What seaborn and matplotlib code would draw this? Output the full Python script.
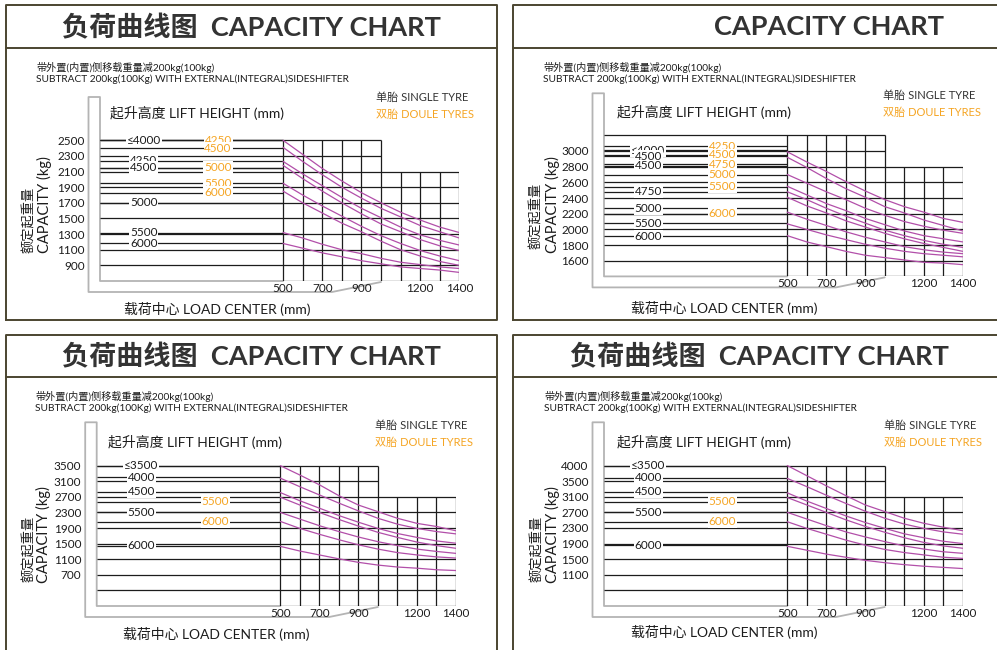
import numpy as np
import pandas as pd
import seaborn as sns
import matplotlib.pyplot as plt

sns.set_theme(style='white')
plt.rcParams['font.family'] = ['Lato', 'Noto Sans CJK SC', 'DejaVu Sans']

W, H = 997, 650
INK = '#1c1c1c'
ORANGE = '#f5a524'
MAGENTA = '#b24fa9'
FRAME = '#4b4530'
BRACKET = '#b4b4b4'

# shared x data (load center, mm)
load_centers = [500, 600, 700, 800, 900, 1000, 1100, 1200, 1300, 1400]
x_tick_values = [500, 700, 900, 1200, 1400]

# ---- panel 1 (top left)
p1_rows = [2500, 2300, 2100, 1900, 1700, 1500, 1300, 1100, 900, 700]
p1_ticks = [2500, 2300, 2100, 1900, 1700, 1500, 1300, 1100, 900]
p1_single = ['≤4000', '4250', '4500', '5000', '5500', '6000']
p1_single_lv = [2500, 2240, 2150, 1700, 1320, 1180]
p1_dual = ['4250', '4500', '5000', '5500', '6000']
p1_dual_lv = [2500, 2400, 2150, 1950, 1830]
p1_curves = [
    [2500, 2320, 2140, 1980, 1830, 1700, 1580, 1480, 1390, 1320],
    [2410, 2230, 2060, 1900, 1760, 1630, 1520, 1410, 1330, 1250],
    [2230, 2070, 1920, 1770, 1630, 1510, 1390, 1290, 1220, 1160],
    [2180, 2010, 1850, 1700, 1560, 1430, 1330, 1230, 1150, 1090],
    [1950, 1800, 1660, 1530, 1400, 1280, 1180, 1090, 1020, 960],
    [1850, 1700, 1570, 1440, 1330, 1210, 1100, 1020, 950, 900],
    [1320, 1250, 1170, 1100, 1050, 990, 940, 910, 880, 860],
    [1180, 1120, 1060, 1010, 960, 920, 880, 860, 840, 810],
]

# ---- panel 2 (top right)
p2_rows = [3200, 3000, 2800, 2600, 2400, 2200, 2000, 1800, 1600, 1400]
p2_ticks = [3000, 2800, 2600, 2400, 2200, 2000, 1800, 1600]
p2_single = ['≤4000', '4500', '4500', '4750', '5000', '5500', '6000']
p2_single_lv = [3010, 2935, 2810, 2480, 2270, 2080, 1915]
p2_dual = ['4250', '4500', '4750', '5000', '5500', '6000']
p2_dual_lv = [3060, 2950, 2830, 2700, 2545, 2200]
p2_curves = [
    [2990, 2860, 2740, 2610, 2490, 2380, 2290, 2220, 2140, 2090],
    [2920, 2790, 2650, 2520, 2410, 2290, 2210, 2120, 2050, 1980],
    [2700, 2590, 2480, 2380, 2270, 2180, 2100, 2040, 1990, 1950],
    [2550, 2440, 2330, 2240, 2140, 2060, 1980, 1920, 1880, 1840],
    [2480, 2380, 2270, 2170, 2080, 1990, 1920, 1860, 1810, 1770],
    [2410, 2300, 2210, 2110, 2030, 1950, 1880, 1820, 1770, 1720],
    [2220, 2130, 2050, 1970, 1900, 1840, 1780, 1740, 1710, 1690],
    [2070, 2000, 1930, 1870, 1810, 1760, 1720, 1690, 1670, 1650],
    [1920, 1840, 1780, 1720, 1670, 1640, 1610, 1580, 1570, 1550],
]

# ---- panel 3 (bottom left)
p3_rows = [3500, 3100, 2700, 2300, 1900, 1500, 1100, 700, 300, -100]
p3_ticks = [3500, 3100, 2700, 2300, 1900, 1500, 1100, 700]
p3_single = ['≤3500', '4000', '4500', '5500', '6000']
p3_single_lv = [3500, 3200, 2830, 2300, 1450]
p3_dual = ['5500', '6000']
p3_dual_lv = [2580, 2060]
p3_curves = [
    [3500, 3260, 3010, 2730, 2490, 2320, 2150, 2020, 1940, 1830],
    [3180, 2960, 2750, 2540, 2340, 2150, 2000, 1890, 1810, 1750],
    [2810, 2600, 2410, 2220, 2050, 1890, 1760, 1660, 1570, 1510],
    [2690, 2490, 2300, 2120, 1950, 1790, 1660, 1540, 1450, 1380],
    [2300, 2130, 1960, 1810, 1670, 1550, 1450, 1360, 1300, 1250],
    [2070, 1890, 1740, 1600, 1470, 1360, 1270, 1210, 1160, 1130],
    [1430, 1310, 1210, 1110, 1020, 950, 900, 870, 830, 810],
]

# ---- panel 4 (bottom right); printed top label 4000 sits on the 3900 row
p4_rows = [3900, 3500, 3100, 2700, 2300, 1900, 1500, 1100, 700, 300]
p4_ticks = [4000, 3500, 3100, 2700, 2300, 1900, 1500, 1100]
p4_single = ['≤3500', '4000', '4500', '5500', '6000']
p4_single_lv = [3900, 3590, 3230, 2700, 1860]
p4_dual = ['5500', '6000']
p4_dual_lv = [2970, 2460]
p4_curves = [
    [3900, 3640, 3380, 3130, 2890, 2720, 2550, 2420, 2320, 2230],
    [3570, 3360, 3140, 2930, 2730, 2550, 2400, 2290, 2200, 2140],
    [3200, 2990, 2800, 2610, 2440, 2290, 2150, 2050, 1960, 1900],
    [3080, 2890, 2700, 2510, 2340, 2190, 2050, 1930, 1840, 1780],
    [2700, 2530, 2360, 2200, 2070, 1950, 1840, 1760, 1690, 1650],
    [2460, 2290, 2140, 1990, 1860, 1750, 1670, 1610, 1550, 1520],
    [1830, 1730, 1630, 1550, 1470, 1410, 1360, 1320, 1290, 1260],
]

fig = plt.figure(figsize=(W / 100, H / 100), dpi=100)
bg = fig.add_axes([0, 0, 1, 1])
bg.set_xlim(0, W)
bg.set_ylim(H, 0)
bg.axis('off')


def frame(l, t, r, b, sep):
    bg.plot([l, l, r, r, l], [b, t, t, b, b], color=FRAME, lw=1.4, clip_on=False)
    bg.plot([l, r], [sep, sep], color=FRAME, lw=1.4)


def bracket(rect, xlim):
    l, t, r, b = rect
    to_px = lambda mm: l + (mm - xlim[0]) * (r - l) / (1400 - xlim[0])
    ox = l - 11.5
    bg.plot([to_px(500), l, l, ox, ox, to_px(750), to_px(1000)],
            [b, b, t, t, b + 11, b + 11, b + 1],
            color=BRACKET, lw=1.3, solid_joinstyle='round')


def chart(rect, xlim, ylim, rows, right_top, ticks, singles, single_lv,
          duals, dual_lv, curves):
    l, t, r, b = rect
    ax = fig.add_axes([l / W, 1 - b / H, (r - l) / W, (b - t) / H])
    ax.set_facecolor('none')
    x0 = xlim[0]
    for v in rows[:-1]:
        ax.hlines(v, x0, 1000 if v > right_top else 1400, color=INK, lw=0.9)
    ax.hlines(rows[-1], 500, 1400, color=INK, lw=0.9)
    for c in load_centers:
        ax.vlines(c, rows[-1], rows[0] if c <= 1000 else right_top,
                  color=INK, lw=0.9)

    for name, lv in zip(singles, single_lv):
        ax.hlines(lv, x0, 500, color=INK, lw=0.9)
        ax.text(-212, lv, name, ha='center', va='center', fontsize=8.5,
                color=INK, bbox=dict(facecolor='white', edgecolor='none', pad=0.6))
    for name, lv in zip(duals, dual_lv):
        ax.hlines(lv, x0, 500, color=INK, lw=0.9)
        ax.text(168, lv, name, ha='center', va='center', fontsize=8.5,
                color=ORANGE, bbox=dict(facecolor='white', edgecolor='none', pad=0.6))

    df = pd.DataFrame({
        'load': np.tile(load_centers, len(curves)),
        'cap': np.concatenate(curves),
        'curve': np.repeat(np.arange(len(curves)), len(load_centers)),
    })
    sns.lineplot(data=df, x='load', y='cap', hue='curve',
                 palette=[MAGENTA] * len(curves), estimator=None,
                 legend=False, lw=0.9, ax=ax)

    start = 1 if rows[0] > ticks[0] and rows[1] == ticks[0] else 0
    ax.set_yticks(rows[start:start + len(ticks)], [str(v) for v in ticks])
    ax.set_xticks(x_tick_values, [str(v) for v in x_tick_values])
    ax.tick_params(axis='both', length=0, labelsize=8.5, colors=INK)
    ax.tick_params(axis='y', pad=11)
    ax.tick_params(axis='x', pad=1.5)
    for s in ax.spines.values():
        s.set_visible(False)
    ax.grid(False)
    ax.set_xlim(xlim)
    ax.set_ylim(ylim)
    ax.set_xlabel('')
    ax.set_ylabel('')
    return ax


def panel_text(title_xy, title, sub_x, sub_y, leg_x, leg_y, lift_xy, load_xy,
               ylab_cn, ylab_en):
    bg.text(*title_xy, title, ha='center', va='center', fontsize=19.5,
            fontweight='bold', color='#333333')
    bg.text(sub_x, sub_y, '带外置(内置)侧移载重量减200kg(100kg)', ha='left',
            va='center', fontsize=7.3, color=INK)
    bg.text(sub_x, sub_y + 12,
            'SUBTRACT 200kg(100Kg) WITH EXTERNAL(INTEGRAL)SIDESHIFTER',
            ha='left', va='center', fontsize=7.3, color=INK)
    bg.text(leg_x, leg_y, '单胎 SINGLE TYRE', ha='left', va='center',
            fontsize=8, color='#333333')
    bg.text(leg_x, leg_y + 17.5, '双胎 DOULE TYRES', ha='left', va='center',
            fontsize=8, color=ORANGE)
    bg.text(*lift_xy, '起升高度 LIFT HEIGHT (mm)', ha='left', va='center',
            fontsize=10, color=INK)
    bg.text(*load_xy, '载荷中心 LOAD CENTER (mm)', ha='left', va='center',
            fontsize=10, color=INK)
    bg.text(*ylab_cn, '额定起重量', rotation=90, ha='center', va='bottom',
            fontsize=9.5, color=INK)
    bg.text(*ylab_en, 'CAPACITY (kg)', rotation=90, ha='center', va='bottom',
            fontsize=10.5, color=INK)


# frames
frame(6, 5, 497, 320, 48)
frame(513, 5, 1010, 320, 48)
frame(6, 335, 497, 665, 377)
frame(513, 335, 1010, 665, 377)

panels = [
    ((100, 97, 459.3, 281), (-435, 1400), (700, 3054), p1_rows, 2100, p1_ticks,
     p1_single, p1_single_lv, p1_dual, p1_dual_lv, p1_curves),
    ((604, 93.3, 962.7, 276.4), (-440, 1400), (1400, 3736), p2_rows, 2800, p2_ticks,
     p2_single, p2_single_lv, p2_dual, p2_dual_lv, p2_curves),
    ((96.7, 422.3, 456, 606), (-441, 1400), (-100, 4613), p3_rows, 2700, p3_ticks,
     p3_single, p3_single_lv, p3_dual, p3_dual_lv, p3_curves),
    ((604, 422.3, 962.7, 606), (-440, 1400), (300, 5008), p4_rows, 3100, p4_ticks,
     p4_single, p4_single_lv, p4_dual, p4_dual_lv, p4_curves),
]
for p in panels:
    bracket(p[0], p[1])

panel_text((251.5, 27), '负荷曲线图  CAPACITY CHART', 36, 67, 376, 97,
           (110, 113), (124, 309), (28, 253), (44, 253))
panel_text((829, 27), 'CAPACITY CHART', 543, 67, 883, 95,
           (617, 112), (631, 308), (535, 249), (552, 253))
panel_text((251.5, 356), '负荷曲线图  CAPACITY CHART', 35, 396, 375, 425,
           (108, 442), (123, 634), (28, 582), (43, 583))
panel_text((759.5, 356), '负荷曲线图  CAPACITY CHART', 544, 396, 884, 425,
           (617, 442), (631, 632), (536, 582), (552, 583))

for p in panels:
    chart(*p)

fig.savefig('out.png', dpi=100)
